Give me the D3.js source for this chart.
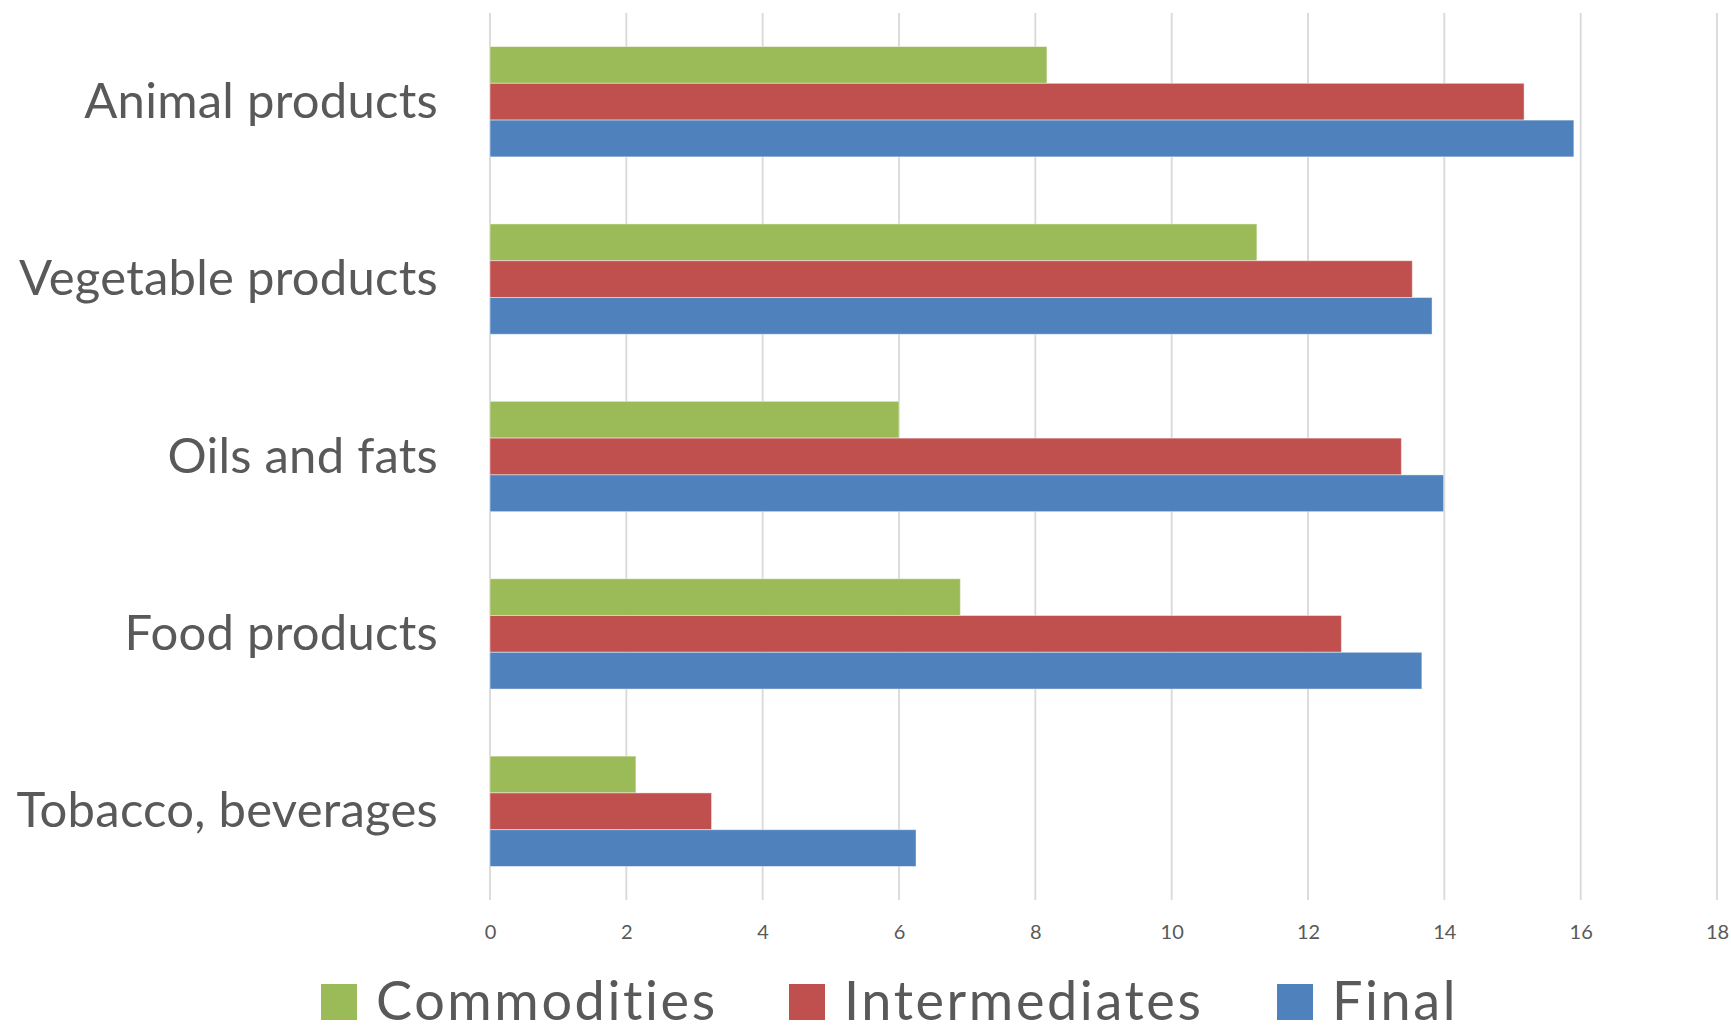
<!DOCTYPE html>
<html>
<head>
<meta charset="utf-8">
<script src="https://cdn.jsdelivr.net/npm/d3@7"></script>
<style>
  html, body { margin: 0; padding: 0; background: #ffffff; }
  svg { display: block; }
</style>
</head>
<body>
<svg id="chart" width="1731" height="1032"></svg>
<script>
// ---- data ----
const categories = ["Animal products", "Vegetable products", "Oils and fats", "Food products", "Tobacco, beverages"];
const seriesNames = ["Commodities", "Intermediates", "Final"];
const commodities = [8.17, 11.25, 6.0, 6.9, 2.14];
const intermediates = [15.17, 13.53, 13.37, 12.49, 3.25];
const finalGoods = [15.9, 13.82, 13.99, 13.67, 6.25];
const xTicks = [0, 2, 4, 6, 8, 10, 12, 14, 16, 18];
const seriesColors = ["#9BBB59", "#C0504D", "#4F81BD"];

const seriesValues = [commodities, intermediates, finalGoods];

// ---- layout ----
const plot = { left: 490, right: 1717, top: 13, bottom: 900 };
const textColor = "#595959";
const font = "Lato, 'Open Sans', sans-serif";

const svg = d3.select("#chart");

const x = d3.scaleLinear().domain([0, 18]).range([plot.left, plot.right]);
const y = d3.scaleBand().domain(categories).range([plot.top, plot.bottom])
  .paddingInner(0.378).paddingOuter(0.189);
const ySub = d3.scaleBand().domain(seriesNames).range([0, y.bandwidth()]).padding(0);

// gridlines
svg.append("g").selectAll("line").data(xTicks).join("line")
  .attr("x1", d => x(d)).attr("x2", d => x(d))
  .attr("y1", plot.top).attr("y2", plot.bottom)
  .attr("stroke", "#D9D9D9").attr("stroke-width", 1.8);

// bars
const groups = svg.append("g").selectAll("g").data(categories).join("g")
  .attr("transform", d => `translate(0,${y(d)})`);

groups.selectAll("rect")
  .data((c, i) => seriesNames.map((s, j) => ({ s, j, v: seriesValues[j][i] })))
  .join("rect")
  .attr("x", x(0))
  .attr("y", d => ySub(d.s))
  .attr("width", d => x(d.v) - x(0))
  .attr("height", ySub.bandwidth())
  .attr("fill", d => seriesColors[d.j])
  .attr("stroke", "rgba(255,255,255,0.45)")
  .attr("stroke-width", 1);

// x axis tick labels
const xAxis = d3.axisBottom(x).tickValues(xTicks).tickSize(0).tickPadding(0).tickFormat(d3.format("d"));
const xg = svg.append("g").attr("transform", `translate(0,${plot.bottom})`).call(xAxis);
xg.select(".domain").remove();
xg.selectAll("text")
  .attr("y", 39).attr("dy", null)
  .attr("fill", textColor)
  .style("font-family", font).style("font-size", "20px");

// category labels
const yAxis = d3.axisLeft(y).tickSize(0).tickPadding(0);
const yg = svg.append("g").attr("transform", `translate(438,0)`).call(yAxis);
yg.select(".domain").remove();
yg.selectAll("text")
  .attr("x", 0).attr("dy", null).attr("y", 16)
  .attr("text-anchor", "end")
  .attr("fill", textColor)
  .style("font-family", font).style("font-size", "49px")
  .style("letter-spacing", "0.25px");

// legend
const legend = svg.append("g");
const legendX = [321, 789, 1277];
seriesNames.forEach((name, j) => {
  legend.append("rect")
    .attr("x", legendX[j]).attr("y", 984).attr("width", 36).attr("height", 36)
    .attr("fill", seriesColors[j]);
  legend.append("text")
    .attr("x", legendX[j] + 55).attr("y", 1020)
    .attr("fill", textColor)
    .style("font-family", font).style("font-size", "54px")
    .style("letter-spacing", "2.6px")
    .text(name);
});
</script>
</body>
</html>
